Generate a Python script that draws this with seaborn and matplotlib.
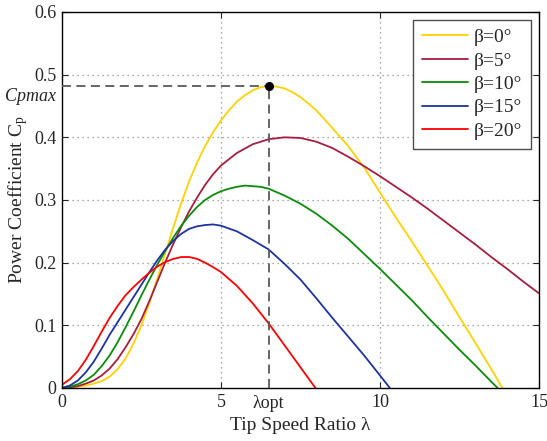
import pandas as pd
import seaborn as sns
import matplotlib.pyplot as plt

# tip speed ratio / power coefficient
lam_0 = [0, 0.25, 0.5, 0.75, 1, 1.25, 1.5, 1.75, 2, 2.25, 2.5, 2.75, 3, 3.25, 3.5, 3.75, 4,
         4.25, 4.5, 4.75, 5, 5.25, 5.5, 5.75, 6, 6.25, 6.5, 6.75, 7, 7.25, 7.5, 7.75, 8,
         8.5, 9, 9.5, 10, 10.5, 11, 11.5, 12, 12.5, 13, 13.5, 13.85]
cp_0 = [0.000, 0.000, 0.002, 0.004, 0.007, 0.011, 0.018, 0.030, 0.047, 0.071, 0.100, 0.136,
        0.175, 0.216, 0.256, 0.295, 0.330, 0.360, 0.386, 0.408, 0.427, 0.443, 0.457, 0.467,
        0.475, 0.480, 0.482, 0.481, 0.478, 0.472, 0.464, 0.454, 0.443,
        0.415, 0.386, 0.352, 0.312, 0.272, 0.234, 0.195, 0.155, 0.113, 0.072, 0.030, 0.000]

lam_5 = [0, 0.25, 0.5, 0.75, 1, 1.25, 1.5, 1.75, 2, 2.25, 2.5, 2.75, 3, 3.25, 3.5, 3.75, 4,
         4.25, 4.5, 4.75, 5, 5.5, 6, 6.5, 7, 7.5, 8, 8.5, 9, 9.5, 10, 10.5, 11, 11.5, 12,
         12.5, 13, 13.5, 14, 14.5, 15]
cp_5 = [0.000, 0.001, 0.003, 0.007, 0.012, 0.020, 0.031, 0.046, 0.065, 0.086, 0.110, 0.139,
        0.170, 0.201, 0.230, 0.257, 0.282, 0.304, 0.324, 0.341, 0.355, 0.375, 0.389, 0.397,
        0.400, 0.399, 0.393, 0.383, 0.369, 0.354, 0.338, 0.321, 0.304, 0.286, 0.267,
        0.248, 0.229, 0.209, 0.190, 0.170, 0.151]

lam_10 = [0, 0.25, 0.5, 0.75, 1, 1.25, 1.5, 1.75, 2, 2.25, 2.5, 2.75, 3, 3.25, 3.5, 3.75, 4,
          4.25, 4.5, 4.75, 5, 5.25, 5.5, 5.75, 6, 6.25, 6.5, 7, 7.5, 8, 8.5, 9, 9.5, 10,
          10.5, 11, 11.5, 12, 12.5, 13, 13.5, 13.7]
cp_10 = [0.000, 0.002, 0.006, 0.012, 0.021, 0.035, 0.052, 0.073, 0.097, 0.122, 0.148, 0.173,
         0.197, 0.219, 0.240, 0.259, 0.275, 0.289, 0.300, 0.308, 0.314, 0.318, 0.321, 0.323,
         0.322, 0.321, 0.318, 0.307, 0.294, 0.278, 0.259, 0.238, 0.214, 0.190,
         0.165, 0.140, 0.113, 0.087, 0.061, 0.036, 0.010, 0.000]

lam_15 = [0, 0.25, 0.5, 0.75, 1, 1.25, 1.5, 1.75, 2, 2.25, 2.5, 2.75, 3, 3.25, 3.5, 3.75, 4,
          4.25, 4.5, 4.75, 5, 5.5, 6, 6.5, 7, 7.5, 8, 8.5, 9, 9.5, 10, 10.31]
cp_15 = [0.000, 0.004, 0.012, 0.025, 0.042, 0.063, 0.085, 0.105, 0.125, 0.145, 0.165, 0.185,
         0.204, 0.221, 0.235, 0.246, 0.254, 0.258, 0.260, 0.261, 0.259, 0.250, 0.236, 0.221,
         0.198, 0.173, 0.143, 0.112, 0.082, 0.052, 0.020, 0.000]

lam_20 = [0, 0.25, 0.5, 0.75, 1, 1.25, 1.5, 1.75, 2, 2.25, 2.5, 2.75, 3, 3.25, 3.5, 3.75, 4,
          4.25, 4.5, 4.75, 5, 5.5, 6, 6.5, 7, 7.5, 7.97]
cp_20 = [0.005, 0.014, 0.027, 0.045, 0.067, 0.090, 0.112, 0.131, 0.148, 0.161, 0.173, 0.184,
         0.194, 0.201, 0.206, 0.209, 0.209, 0.206, 0.200, 0.193, 0.185, 0.163, 0.135, 0.103,
         0.068, 0.033, 0.000]

labels = ["β=0°", "β=5°", "β=10°", "β=15°", "β=20°"]
colors = ["#FFD200", "#A51E41", "#0A8C0A", "#1E32A0", "#FF0000"]

lam_opt = 6.5
cp_max = 0.482

frames = []
for lab, x, y in zip(labels, [lam_0, lam_5, lam_10, lam_15, lam_20],
                     [cp_0, cp_5, cp_10, cp_15, cp_20]):
    frames.append(pd.DataFrame({"lam": x, "cp": y, "pitch": lab}))
df = pd.concat(frames, ignore_index=True)

sns.set_style("ticks")
plt.rcParams['font.family'] = ['Liberation Serif', 'DejaVu Serif']
plt.rcParams['mathtext.fontset'] = 'custom'
plt.rcParams['mathtext.rm'] = 'Liberation Serif'
plt.rcParams['mathtext.it'] = 'Liberation Serif:italic'

fig = plt.figure(figsize=(5.47, 4.41), dpi=100)
ax = fig.add_axes([0.1133, 0.1202, 0.8721, 0.8526])

# grid first so the curves sit on top
for gx in [5, 10]:
    ax.axvline(gx, color="0.55", linestyle=(0, (1, 3)), linewidth=0.9, zorder=0)
for gy in [0.1, 0.2, 0.3, 0.4, 0.5]:
    ax.axhline(gy, color="0.55", linestyle=(0, (1, 3)), linewidth=0.9, zorder=0)

sns.lineplot(data=df, x="lam", y="cp", hue="pitch", palette=dict(zip(labels, colors)),
             sort=False, estimator=None, linewidth=1.3, ax=ax)

# optimum point with dashed guide lines
ax.plot([0, lam_opt], [cp_max, cp_max], color="0.35", linestyle=(0, (5, 3)), linewidth=1.3, zorder=3)
ax.plot([lam_opt, lam_opt], [0, cp_max], color="0.35", linestyle=(0, (5, 3)), linewidth=1.3, zorder=3)
ax.plot([lam_opt], [cp_max], "o", color="black", markersize=5.5, zorder=5)

ax.set_xlim(0, 15)
ax.set_ylim(0, 0.6)
ax.set_xticks([0, 5, 10, 15])
ax.set_xticklabels(["0", "5", "10", "15"])
ax.set_yticks([0, 0.1, 0.2, 0.3, 0.4, 0.5, 0.6])
ax.set_yticklabels(["0", "0.1", "0.2", "0.3", "0.4", "0.5", "0.6"])
ax.tick_params(direction="in", top=True, right=True, labelsize=13, length=4, width=0.8, pad=4)

ax.text(lam_opt, -0.011, "λopt", ha="center", va="top", fontsize=13)
ax.text(-0.18, cp_max - 0.004, "Cpmax", ha="right", va="top", fontsize=13, style="italic")

ax.set_xlabel("Tip Speed Ratio λ", fontsize=14, labelpad=5)
ax.set_ylabel(r"Power Coefficient C$_{\mathrm{p}}$", fontsize=14, labelpad=3)

for s in ax.spines.values():
    s.set_color("black")
    s.set_linewidth(1.0)

leg = ax.legend(loc="upper right", fontsize=14, frameon=True, fancybox=False, framealpha=1,
                edgecolor="0.3", handlelength=2.4, borderaxespad=0.4, labelspacing=0.3,
                handletextpad=0.3, borderpad=0.45)
leg.get_frame().set_linewidth(1.0)

fig.savefig("out.png", dpi=100)
